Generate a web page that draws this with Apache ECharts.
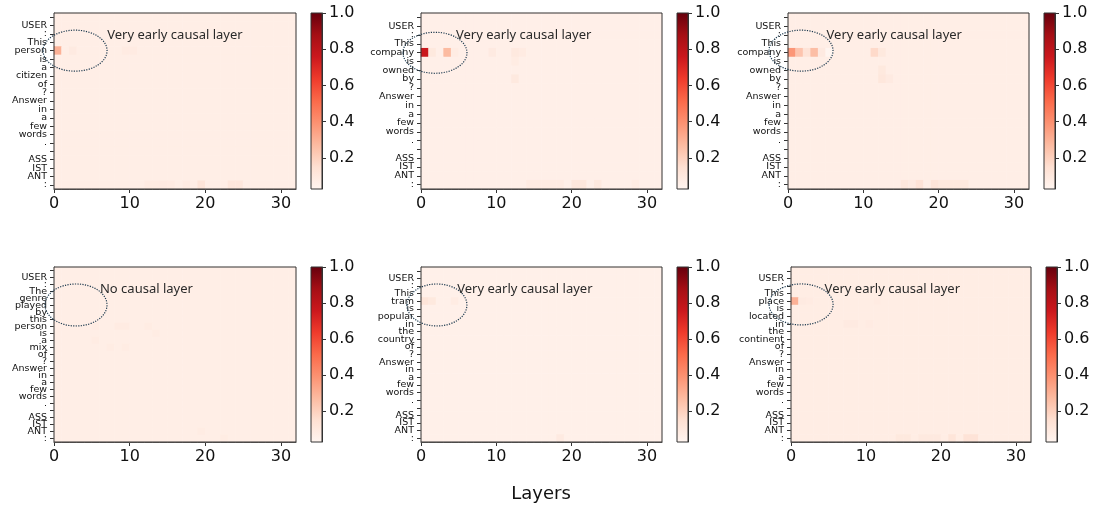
<!DOCTYPE html>
<html><head><meta charset="utf-8">
<script src="https://cdn.jsdelivr.net/npm/echarts@6/dist/echarts.min.js"></script>
<style>html,body{margin:0;padding:0;background:#fff}#c{width:1094px;height:507px}</style>
</head><body><div id="c"></div>
<script>
// ---------- data ----------
const layers = [0,1,2,3,4,5,6,7,8,9,10,11,12,13,14,15,16,17,18,19,20,21,22,23,24,25,26,27,28,29,30,31];
const xTickLabels = [0, 10, 20, 30];
const cbTickLabels = [0.2, 0.4, 0.6, 0.8, 1.0];
const cbMin = 0.028, cbMax = 1.0;
const redsColors = ['#fff5f0','#fee0d2','#fcbba1','#fc9272','#fb6a4a','#ef3b2c','#cb181d','#a50f15','#67000d'];
const xTitle = 'Layers';

const tokens1 = ['', 'USER', ':', 'This', 'person', 'is', 'a', 'citizen', 'of', '?', 'Answer', 'in', 'a', 'few', 'words', '.', '', 'ASS', 'IST', 'ANT', ':'];
const tokens2 = ['', 'USER', ':', 'This', 'company', 'is', 'owned', 'by', '?', 'Answer', 'in', 'a', 'few', 'words', '.', '', 'ASS', 'IST', 'ANT', ':'];
const tokens3 = ['', 'USER', ':', 'This', 'company', 'is', 'owned', 'by', '?', 'Answer', 'in', 'a', 'few', 'words', '.', '', 'ASS', 'IST', 'ANT', ':'];
const tokens4 = ['', 'USER', ':', 'The', 'genre', 'played', 'by', 'this', 'person', 'is', 'a', 'mix', 'of', '?', 'Answer', 'in', 'a', 'few', 'words', '.', '', 'ASS', 'IST', 'ANT', ':'];
const tokens5 = ['', 'USER', ':', 'This', 'tram', 'is', 'popular', 'in', 'the', 'country', 'of', '?', 'Answer', 'in', 'a', 'few', 'words', '.', '', 'ASS', 'IST', 'ANT', ':'];
const tokens6 = ['', 'USER', ':', 'This', 'place', 'is', 'located', 'in', 'the', 'continent', 'of', '?', 'Answer', 'in', 'a', 'few', 'words', '.', '', 'ASS', 'IST', 'ANT', ':'];

// background (uniform) level of each map
const base1 = 0.07, base2 = 0.06, base3 = 0.07, base4 = 0.07, base5 = 0.055, base6 = 0.075;
// notable cells: [layer, token row, value]
const cells1 = [[0,4,0.30],[2,4,0.09],[9,4,0.085],[10,4,0.085],[12,20,0.085],[13,20,0.085],[14,20,0.09],[15,20,0.085],[17,20,0.085],[19,20,0.12],[23,20,0.11],[24,20,0.11]];
const cells2 = [[0,4,0.76],[1,4,0.1],[3,4,0.27],[4,4,0.08],[9,4,0.09],[12,4,0.095],[13,4,0.085],[12,5,0.08],[12,7,0.095],[14,19,0.085],[15,19,0.085],[16,19,0.085],[17,19,0.085],[18,19,0.085],[20,19,0.11],[21,19,0.11],[23,19,0.095],[28,19,0.08]];
const cells3 = [[0,4,0.38],[1,4,0.24],[2,4,0.13],[3,4,0.26],[4,4,0.09],[5,4,0.03],[11,4,0.17],[12,4,0.1],[12,6,0.1],[12,7,0.11],[13,7,0.09],[15,19,0.11],[16,19,0.09],[17,19,0.13],[19,19,0.12],[20,19,0.1],[21,19,0.1],[22,19,0.1],[23,19,0.1]];
const cells4 = [[5,8,0.08],[8,8,0.085],[9,8,0.085],[12,8,0.08],[13,9,0.08],[5,10,0.08],[7,11,0.08],[9,11,0.08],[19,23,0.08],[22,24,0.08]];
const cells5 = [[0,4,0.12],[1,4,0.1],[4,4,0.08],[18,22,0.09]];
const cells6 = [[0,4,0.3],[1,4,0.09],[2,4,0.085],[7,7,0.09],[8,7,0.09],[10,7,0.085],[11,4,0.085],[14,22,0.1],[15,22,0.1],[17,22,0.095],[18,22,0.095],[19,22,0.095],[21,22,0.12],[23,22,0.13],[24,22,0.13]];

const notes = ['Very early causal layer','Very early causal layer','Very early causal layer','No causal layer','Very early causal layer','Very early causal layer'];

// ---------- layout ----------
const boxes = [
  {left:54, top:13, width:242, height:176, cb:311},
  {left:421, top:13, width:241, height:176, cb:677},
  {left:788, top:13, width:241, height:176, cb:1044},
  {left:54, top:267, width:242, height:175, cb:311},
  {left:421, top:267, width:241, height:175, cb:677},
  {left:791, top:267, width:240, height:175, cb:1046}
];
// annotation placement in axes fractions: text x/y, ellipse cx/cy (+ radii px)
const annots = [
  {tx:0.22, ty:0.126, cx:0.087, cy:0.214, rx:32, ry:20.5},
  {tx:0.145, ty:0.126, cx:0.058, cy:0.226, rx:32, ry:20.5},
  {tx:0.16, ty:0.126, cx:0.054, cy:0.214, rx:32, ry:20.5},
  {tx:0.19, ty:0.13, cx:0.091, cy:0.217, rx:31, ry:21},
  {tx:0.15, ty:0.126, cx:0.066, cy:0.217, rx:30, ry:21},
  {tx:0.14, ty:0.126, cx:0.042, cy:0.214, rx:32, ry:20.5}
];

const panels = [
  {tokens:tokens1, base:base1, cells:cells1},
  {tokens:tokens2, base:base2, cells:cells2},
  {tokens:tokens3, base:base3, cells:cells3},
  {tokens:tokens4, base:base4, cells:cells4},
  {tokens:tokens5, base:base5, cells:cells5},
  {tokens:tokens6, base:base6, cells:cells6}
];

function buildMatrix(p) {
  const hot = {};
  p.cells.forEach(c => { hot[c[0] + '_' + c[1]] = c[2]; });
  const out = [];
  p.tokens.forEach((t, r) => {
    layers.forEach((l, li) => {
      const k = li + '_' + r;
      out.push([li, r, hot[k] !== undefined ? hot[k] : p.base]);
    });
  });
  return out;
}

const grid = [], xAxis = [], yAxis = [], series = [], graphic = [];
const axisColor = '#333';
const FONT = 'DejaVu Sans';

panels.forEach((p, i) => {
  const b = boxes[i];
  grid.push({left:b.left, top:b.top, width:b.width, height:b.height, show:true, borderColor:axisColor, borderWidth:1, backgroundColor:'transparent', z:10, outerBoundsMode:'none', containLabel:false});
  grid.push({left:b.cb, top:b.top, width:11, height:b.height, show:true, borderColor:axisColor, borderWidth:1, backgroundColor:'transparent', z:10, outerBoundsMode:'none', containLabel:false});
  const g = 2*i, gc = 2*i + 1;
  xAxis.push({type:'category', gridIndex:g, data:layers.map(String), show:false});
  xAxis.push({type:'value', gridIndex:g, position:'bottom', min:0, max:32,
    axisLine:{show:true, lineStyle:{color:axisColor, width:1}},
    axisTick:{show:true, length:4, lineStyle:{color:axisColor}, customValues:xTickLabels},
    axisLabel:{show:true, customValues:xTickLabels, color:'#111', fontSize:16, fontFamily:FONT, margin:7},
    splitLine:{show:false}});
  xAxis.push({type:'category', gridIndex:gc, data:['cb'], show:false});
  const toks = p.tokens;
  yAxis.push({type:'category', gridIndex:g, inverse:true, data:toks.map((t, r) => 'r' + r),
    axisLine:{show:true, lineStyle:{color:axisColor}},
    axisTick:{show:true, alignWithLabel:true, interval:0, length:4, lineStyle:{color:axisColor}},
    axisLabel:{interval:0, fontSize:9.5, fontFamily:FONT, color:'#111', margin:7, lineHeight:9,
      formatter:(v, idx) => toks[idx]},
    splitLine:{show:false}});
  yAxis.push({type:'value', gridIndex:gc, position:'right', min:cbMin, max:cbMax,
    axisLine:{show:true, lineStyle:{color:axisColor}},
    axisTick:{show:true, length:4, lineStyle:{color:axisColor}, customValues:cbTickLabels},
    axisLabel:{show:true, customValues:cbTickLabels, color:'#111', fontSize:16, fontFamily:FONT, margin:7,
      formatter:v => Number(v).toFixed(1)},
    splitLine:{show:false}});
  series.push({type:'heatmap', xAxisIndex:3*i, yAxisIndex:2*i, data:buildMatrix(p), emphasis:{disabled:true}, silent:true});
  const a = annots[i];
  graphic.push({type:'ellipse', z:100, silent:true,
    shape:{cx:b.left + a.cx*b.width, cy:b.top + a.cy*b.height, rx:a.rx, ry:a.ry},
    style:{fill:'none', stroke:'#1d3a4f', lineWidth:1.2, lineDash:[1.2,1.3]}});
  graphic.push({type:'text', z:100, silent:true, x:b.left + a.tx*b.width, y:b.top + a.ty*b.height,
    style:{text:notes[i], fill:'#2a2a2a', font:'13px "Noto Sans"', textVerticalAlign:'middle', verticalAlign:'middle'}});
});
panels.forEach((p, i) => {
  series.push({type:'bar', xAxisIndex:3*i + 2, yAxisIndex:2*i + 1, data:[cbMax], barWidth:'100%', silent:true, clip:true,
    itemStyle:{color:{type:'linear', x:0, y:1, x2:0, y2:0,
      colorStops:redsColors.map((c, k) => ({offset:k/(redsColors.length - 1), color:c}))}}});
});
graphic.push({type:'text', z:100, silent:true, x:541, y:494,
  style:{text:xTitle, fill:'#111', font:'18px "DejaVu Sans"', align:'center', textAlign:'center', verticalAlign:'middle', textVerticalAlign:'middle'}});

const chart = echarts.init(document.getElementById('c'), null, {renderer:'canvas'});
chart.setOption({
  animation:false,
  backgroundColor:'#fff',
  grid, xAxis, yAxis, series, graphic,
  visualMap:{type:'continuous', show:false, min:cbMin, max:cbMax, seriesIndex:[0,1,2,3,4,5], inRange:{color:redsColors}}
});
</script></body></html>
